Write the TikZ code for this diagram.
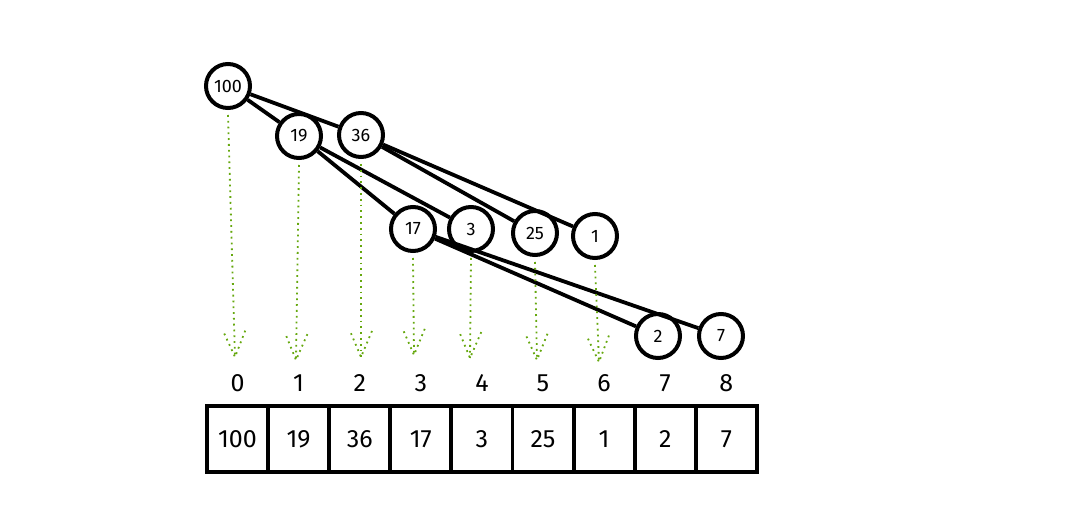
\documentclass[tikz,border=0pt]{standalone}
\usepackage{fontspec}
\setmainfont{Fira Sans}
\usetikzlibrary{decorations.markings}
\definecolor{dotgreen}{RGB}{102,168,15}
\begin{document}
\begin{tikzpicture}[x=1pt,y=-1pt,
  hnode/.style={circle,draw=black,line width=4pt,minimum size=44pt,inner sep=0pt,fill=white,font=\fontsize{18}{18}\selectfont},
  hedge/.style={line width=3.8pt,black},
  cell/.style={draw=black,line width=3.8pt,minimum width=61pt,minimum height=66pt,inner sep=0pt,font=\fontsize{25}{25}\selectfont},
  idx/.style={font=\fontsize{25}{25}\selectfont,inner sep=0pt},
  gdots/.style={dotgreen,line width=1.8pt,dash pattern=on 1.8pt off 4pt},
  garrow/.style={gdots,postaction={decorate,decoration={markings,mark=at position 1 with {\draw[gdots] (-26pt,11pt) -- (0pt,0pt) -- (-26pt,-11pt);}}}}
]
\useasboundingbox (0,0) rectangle (1077,513);

% heap nodes
\node[hnode] (n0) at (228,86) {100};
\node[hnode] (n1) at (299,136) {19};
\node[hnode] (n2) at (361,135) {36};
\node[hnode] (n3) at (413,229) {17};
\node[hnode] (n4) at (471,229) {3};
\node[hnode] (n5) at (535,233) {25};
\node[hnode] (n6) at (595,236) {1};
\node[hnode] (n7) at (658,336) {2};
\node[hnode] (n8) at (721,336) {7};

% edges
\draw[hedge] (n0) -- (n1);
\draw[hedge] (n0) -- (n2);
\draw[hedge] (n1) -- (n3);
\draw[hedge] (n1) -- (n4);
\draw[hedge] (n2) -- (n5);
\draw[hedge] (n2) -- (n6);
\draw[hedge] (n3) -- (n7);
\draw[hedge] (n3) -- (n8);

% arrow tips
\coordinate (t0) at (235,357);
\coordinate (t1) at (296,360);
\coordinate (t2) at (361,357);
\coordinate (t3) at (414,355);
\coordinate (t4) at (470,358);
\coordinate (t5) at (537,360);
\coordinate (t6) at (599,362);

\draw[garrow] ([yshift=-5pt]n0.south) -- (t0);
\draw[garrow] ([yshift=-5pt]n1.south) -- (t1);
\draw[garrow] ([yshift=-5pt]n2.south) -- (t2);
\draw[garrow] ([yshift=-5pt]n3.south) -- (t3);
\draw[garrow] ([yshift=-5pt]n4.south) -- (t4);
\draw[garrow] ([yshift=-5pt]n5.south) -- (t5);
\draw[garrow] ([yshift=-5pt]n6.south) -- (t6);

% array
\foreach \v [count=\i from 0] in {100,19,36,17,3,25,1,2,7} {
  \node[cell] (c\i) at ({237.5+61.1*\i},439) {\v};
  \node[idx] (i\i) at ({237.5+61.1*\i},383) {\i};
}
\end{tikzpicture}
\end{document}
